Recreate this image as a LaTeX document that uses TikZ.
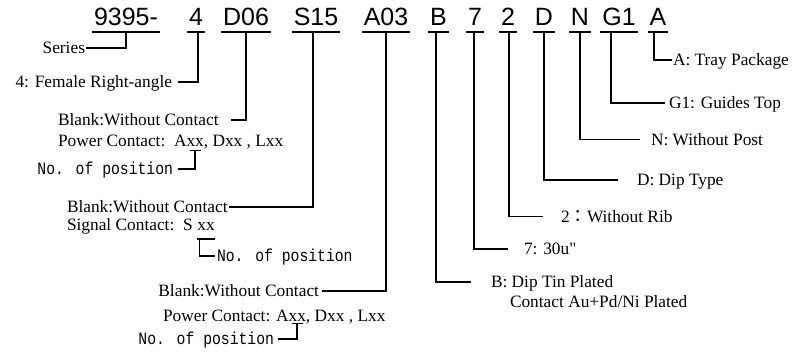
\documentclass[tikz,border=0pt]{standalone}
\usepackage{fontspec}
\setmainfont{Liberation Serif}
\newfontfamily\rawserif{Liberation Serif}
\newfontfamily\codef{Liberation Sans}
\newfontfamily\monof[FakeStretch=0.85]{Liberation Mono}
\newfontfamily\cjkf{Noto Sans CJK TC}
\begin{document}
\begin{tikzpicture}[x=0.75pt,y=-0.75pt,line width=1.4pt,
  code/.style={font=\codef\fontsize{18.75pt}{22pt}\selectfont, inner xsep=1.5pt, inner ysep=0pt, text depth=5.25pt, anchor=base, outer sep=0pt},
  lbl/.style={font=\fontsize{13pt}{15pt}\selectfont, inner sep=0pt, outer sep=0pt, text height=8.6pt, text depth=0pt},
  mono/.style={font=\monof\fontsize{13pt}{15pt}\selectfont, inner sep=0pt, outer sep=0pt, text height=7.5pt, text depth=0pt}]
\useasboundingbox (0,0) rectangle (809,358);
% code parts
\node[code] (c1) at (126,25) {9395-};
\node[code] (c2) at (196,25) {4};
\node[code] (c3) at (246,25) {D06};
\node[code] (c4) at (316,25) {S15};
\node[code] (c5) at (386,25) {A03};
\node[code] (c6) at (438.5,25) {B};
\node[code] (c7) at (475,25) {7};
\node[code] (c8) at (508,25) {2};
\node[code] (c9) at (544,25) {D};
\node[code] (c10) at (580,25) {N};
\node[code] (c11) at (619,25) {G1};
\node[code] (c12) at (658,25) {A};
\foreach \c in {c1,c2,c3,c4,c5,c6,c7,c8,c9,c10,c11,c12}
  \draw (\c.south west) -- (\c.south east);
% left labels
\node[lbl, anchor=east] (l1) at (85,48) {Series};
\node[lbl, anchor=east] (l2) at (172,82) {4: Female Right-angle};
\node[lbl, anchor=west] (l3) at (58,120) {Blank:Without Contact};
\node[lbl, anchor=west] (p1a) at (58,141) {Power Contact:\ \ A};
\node[lbl, anchor=base west] (p1x) at (p1a.base east) {xx};
\node[lbl, anchor=base west] (p1b) at (p1x.base east) {, Dxx , Lxx};
\node[mono, anchor=east] (n1) at (173,169) {No. of position};
\node[lbl, anchor=west] (l4) at (67,207) {Blank:Without Contact};
\node[lbl, anchor=west] (s1a) at (67,225) {Signal Contact:\ \ S};
\node[lbl, anchor=base west] (s1x) at ([xshift=3.6pt]s1a.base east) {xx};
\node[mono, anchor=west] (n2) at (217,256) {No. of position};
\node[lbl, anchor=east] (l5) at (319,291) {Blank:Without Contact};
\node[lbl, anchor=west] (p2a) at (163,315.5) {Power Contact: A};
\node[lbl, anchor=base west] (p2x) at (p2a.base east) {xx};
\node[lbl, anchor=base west] (p2b) at (p2x.base east) {, Dxx , Lxx};
\node[mono, anchor=east] (n3) at (274,339) {No. of position};
% right labels
\node[lbl, anchor=west] (r12) at (673,60) {A: Tray Package};
\node[lbl, anchor=west] (r11) at (669,103) {G1: Guides Top};
\node[lbl, anchor=west] (r10) at (651,139.5) {N: Without Post};
\node[lbl, anchor=west] (r9) at (637,180) {D: Dip Type};
\node[lbl, anchor=west] (r8) at (561,216.5) {2{\cjkf ：}Without Rib};
\node[lbl, anchor=west] (r7) at (524,249) {7: 30u{\rawserif"}};
\node[lbl, anchor=west] (r6) at (491,282) {B: Dip Tin Plated};
\node[lbl, anchor=west] (r6b) at (510,302) {Contact Au+Pd/Ni Plated};
% connectors left
\draw (c1.south) |- ([xshift=0.75pt]l1.east);
\draw ([xshift=1.5pt]c2.south) |- ([xshift=4.5pt]l2.east);
\draw (c3.south) |- ([xshift=9pt]l3.east);
\draw ([xshift=-2.25pt]c4.south) |- ([xshift=0.75pt]l4.east);
\draw (c5.south) |- ([xshift=2.25pt]l5.east);
% brackets
\coordinate (b1) at ([yshift=-2.8pt]p1x.south);
\draw ([xshift=-4.1pt]b1) -- ([xshift=4.1pt]b1);
\draw (b1) |- ([xshift=3.75pt]n1.east);
\coordinate (b2) at ([yshift=-6.5pt]s1x.south west);
\draw (b2) -- (b2 -| s1x.east);
\draw ([xshift=1.5pt]b2) |- ([xshift=-1.5pt]n2.west);
\coordinate (b3) at ([yshift=-1.7pt]p2x.south);
\draw ([xshift=-4.1pt]b3) -- ([xshift=4.1pt]b3);
\draw (b3) |- ([xshift=3pt]n3.east);
% connectors right
\draw ([xshift=-1.9pt]c6.south) |- ([xshift=-15pt]r6.west);
\draw ([xshift=-0.75pt]c7.south) |- ([xshift=-12pt]r7.west);
\draw ([xshift=0.75pt]c8.south) |- ([xshift=-13.5pt]r8.west);
\draw (c9.south) |- ([xshift=-14.25pt]r9.west);
\draw (c10.south) |- ([xshift=-8.25pt]r10.west);
\draw ([xshift=-6pt]c11.south) |- ([xshift=-3pt]r11.west);
\draw ([xshift=-3pt]c12.south) |- ([xshift=-0.75pt]r12.west);
\end{tikzpicture}
\end{document}
